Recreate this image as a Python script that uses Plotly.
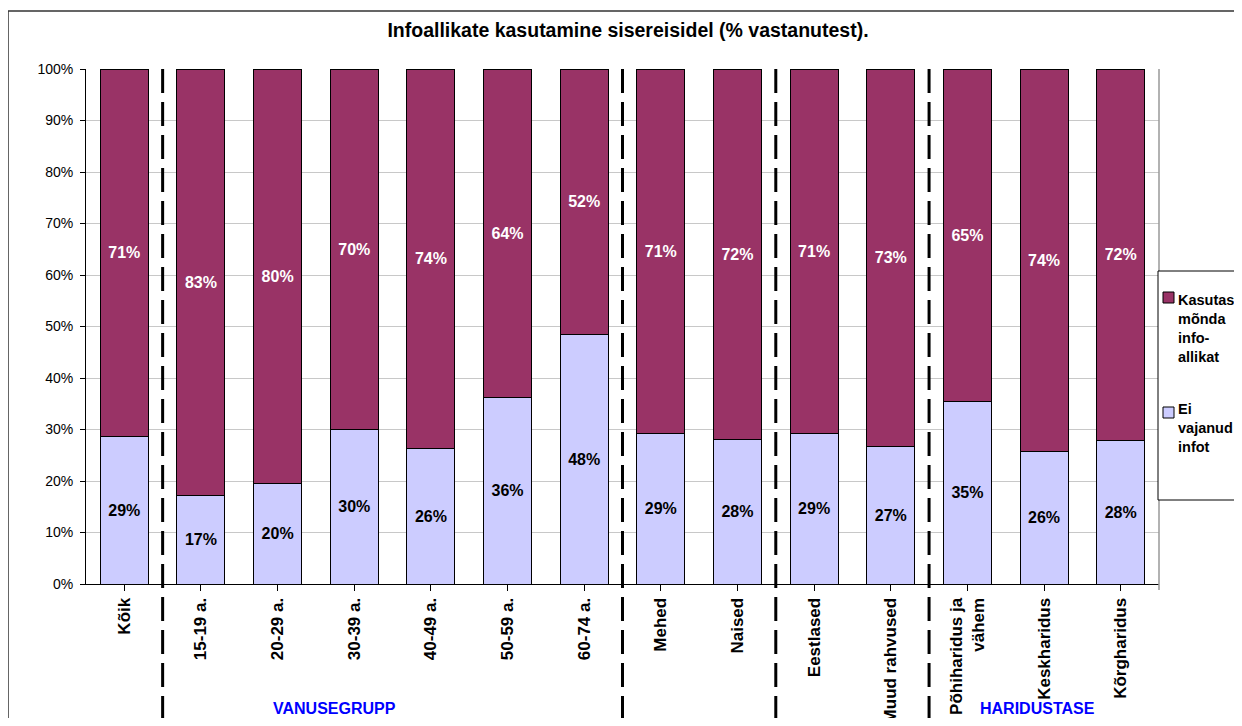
import plotly.graph_objects as go

# ---- data ----
categories = ["Kõik", "15-19 a.", "20-29 a.", "30-39 a.", "40-49 a.", "50-59 a.", "60-74 a.",
              "Mehed", "Naised", "Eestlased", "Muud rahvused",
              "Põhiharidus ja<br>vähem", "Keskharidus", "Kõrgharidus"]
ei_vajanud = [28.6, 17.1, 19.6, 30.0, 26.3, 36.3, 48.4, 29.3, 28.0, 29.2, 26.7, 35.4, 25.7, 27.8]
kasutas = [71.4, 82.9, 80.4, 70.0, 73.7, 63.7, 51.6, 70.7, 72.0, 70.8, 73.3, 64.6, 74.3, 72.2]
series_names = ["Kasutas<br>mõnda<br>info-<br>allikat", "Ei<br>vajanud<br>infot"]
group_labels = ["VANUSEGRUPP", "HARIDUSTASE"]
group_label_pos = [2.74, 11.91]
group_boundaries = [0.5, 6.5, 8.5, 10.5]
title_text = "Infoallikate kasutamine sisereisidel (% vastanutest)."

FONT = "Liberation Sans, Arial, sans-serif"
C_TOP = "#993366"
C_BOT = "#CCCCFF"

OFF = 8  # page body margin
W, H = 1242 - 2 * OFF, 726 - 2 * OFF
# plot area in screen pixels
L, R, T, B = 86, 1159, 69, 584


def px_x(x):
    return (x - L) / (R - L)


def px_y(y):
    return (B - y) / (B - T)


fig = go.Figure()
fig.add_trace(go.Bar(
    x=list(range(len(categories))), y=ei_vajanud, name="Ei vajanud infot",
    marker=dict(color=C_BOT, line=dict(color="black", width=1)),
    text=[f"{round(v)}%" for v in ei_vajanud], textposition="inside",
    insidetextanchor="middle", textangle=0, constraintext="none",
    textfont=dict(family=FONT, size=16, color="black", weight="bold"),
    hoverinfo="skip"))
fig.add_trace(go.Bar(
    x=list(range(len(categories))), y=kasutas, name="Kasutas mõnda info-allikat",
    marker=dict(color=C_TOP, line=dict(color="black", width=1)),
    text=[f"{round(v)}%" for v in kasutas], textposition="inside",
    insidetextanchor="middle", textangle=0, constraintext="none",
    textfont=dict(family=FONT, size=16, color="white", weight="bold"),
    hoverinfo="skip"))

shapes = []
# outer chart frame
shapes.append(dict(type="rect", xref="paper", yref="paper",
                   x0=px_x(8), x1=px_x(1400), y0=px_y(900), y1=px_y(11),
                   line=dict(color="#333333", width=1.5), layer="below"))
# right border of plot area
shapes.append(dict(type="line", xref="paper", yref="paper", x0=1, x1=1, y0=px_y(590), y1=1,
                   line=dict(color="#999999", width=1.5)))
# group separators
for b in group_boundaries:
    shapes.append(dict(type="line", xref="x", yref="paper", x0=b, x1=b, y0=1, y1=px_y(740),
                       line=dict(color="black", width=3, dash="24px,9px")))
# legend box
shapes.append(dict(type="rect", xref="paper", yref="paper",
                   x0=px_x(1158), x1=px_x(1300), y0=px_y(500), y1=px_y(271),
                   line=dict(color="black", width=1), fillcolor="white"))
legend_sq_y = [292, 407]
legend_txt_y = [290, 399]
legend_colors = [C_TOP, C_BOT]
for yy, cc in zip(legend_sq_y, legend_colors):
    shapes.append(dict(type="rect", xref="paper", yref="paper",
                       x0=px_x(1163), x1=px_x(1174), y0=px_y(yy + 11), y1=px_y(yy),
                       line=dict(color="black", width=1), fillcolor=cc))

annotations = []
for txt, yy in zip(series_names, legend_txt_y):
    annotations.append(dict(text=txt, xref="paper", yref="paper", x=px_x(1176), y=px_y(yy),
                            xanchor="left", yanchor="top", align="left", showarrow=False,
                            font=dict(family=FONT, size=14.5, color="black", weight="bold")))
for txt, xx in zip(group_labels, group_label_pos):
    annotations.append(dict(text=txt, xref="x", yref="paper", x=xx, y=px_y(717.5),
                            xanchor="center", yanchor="bottom", showarrow=False, borderpad=0,
                            font=dict(family=FONT, size=16, color="#0000FF", weight="bold")))

fig.update_layout(
    width=W, height=H,
    margin=dict(l=L - OFF, r=(W + OFF) - R, t=T - OFF, b=(H + OFF) - B, autoexpand=False),
    paper_bgcolor="white", plot_bgcolor="white",
    barmode="stack", bargap=0.373,
    showlegend=False,
    title=dict(text=title_text, x=(628 - OFF) / W, xref="container", xanchor="center",
               y=1 - (30 - OFF) / H, yref="container", yanchor="middle",
               font=dict(family=FONT, size=19.5, color="black", weight="bold")),
    font=dict(family=FONT, color="black"),
    xaxis=dict(tickmode="array", tickvals=list(range(len(categories))), ticktext=categories,
               range=[-0.5, len(categories) - 0.5],
               tickangle=-90, tickfont=dict(family=FONT, size=17, color="black", weight="bold"),
               ticks="outside", ticklen=6, tickcolor="black",
               showline=True, linecolor="black", linewidth=1, showgrid=False, zeroline=False),
    yaxis=dict(range=[0, 100], dtick=10, ticksuffix="%",
               tickfont=dict(family=FONT, size=14, color="black"),
               ticks="outside", ticklen=5, tickcolor="black", ticklabelstandoff=4,
               showline=True, linecolor="black", linewidth=1,
               showgrid=True, gridcolor="#c8c8c8", gridwidth=1, zeroline=False),
    shapes=shapes, annotations=annotations,
)

fig.write_html("out.html")
